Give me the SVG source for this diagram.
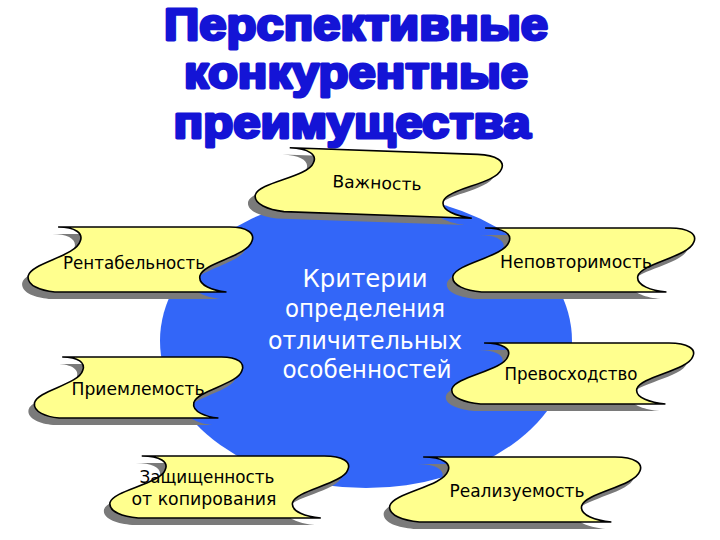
<svg xmlns="http://www.w3.org/2000/svg" xmlns:xlink="http://www.w3.org/1999/xlink" width="720" height="540" viewBox="0 0 720 540">
  <style>
    .title { font-family: "Liberation Sans", Arial, sans-serif; font-weight: bold; font-size: 44px; fill: #1414d6; stroke: #1414d6; stroke-width: 3px; stroke-linejoin: round; text-anchor: middle; }
    .ctext { font-family: "DejaVu Sans", Tahoma, sans-serif; font-size: 24px; fill: #ffffff; text-anchor: middle; }
    .ftext { font-family: "DejaVu Sans", Tahoma, sans-serif; font-size: 17px; fill: #000000; text-anchor: middle; }
    .flagfill { fill: #ffff8e; stroke: #000000; stroke-width: 1.6px; }
    .shadow { fill: #7a7a7a; stroke: none; }
  </style>
  <defs>
    <path id="flag" vector-effect="non-scaling-stroke" d="M0.118,0 L0.895,0 C0.975,0 1.01,0.1 0.995,0.22 C0.975,0.45 0.775,0.55 0.76,0.75 C0.75,0.9 0.82,0.98 0.88,1 L0.103,1 C0.04,0.98 -0.025,0.9 -0.017,0.75 C-0.002,0.55 0.198,0.45 0.218,0.22 C0.233,0.1 0.198,0 0.118,0 Z"/>
  </defs>
  <rect x="0" y="0" width="720" height="540" fill="#ffffff"/>

  <g id="title">
    <text class="title" x="356" y="40" textLength="384" lengthAdjust="spacingAndGlyphs">Перспективные</text>
    <text class="title" x="356" y="88" textLength="344" lengthAdjust="spacingAndGlyphs">конкурентные</text>
    <text class="title" x="352" y="138" textLength="357" lengthAdjust="spacingAndGlyphs">преимущества</text>
  </g>

  <g id="center">
    <ellipse cx="366" cy="341" rx="206" ry="147" fill="#3366f8"/>
    <text class="ctext" x="365" y="287" textLength="125" lengthAdjust="spacingAndGlyphs">Критерии</text>
    <text class="ctext" x="365" y="317" textLength="160" lengthAdjust="spacingAndGlyphs">определения</text>
    <text class="ctext" x="365" y="349" textLength="194" lengthAdjust="spacingAndGlyphs">отличительных</text>
    <text class="ctext" x="367" y="378" textLength="169" lengthAdjust="spacingAndGlyphs">особенностей</text>
  </g>

  <g id="connectors"></g>

  <g id="vazhnost" transform="rotate(2 381 183)">
    <use xlink:href="#flag" class="shadow" transform="translate(253 158) scale(242 64)"/>
    <use xlink:href="#flag" class="flagfill" transform="translate(260 151) scale(242 64)"/>
    <text class="ftext" x="377" y="189" textLength="89" lengthAdjust="spacingAndGlyphs">Важность</text>
  </g>

  <g id="rentabelnost">
    <use xlink:href="#flag" class="shadow" transform="translate(26 234) scale(221 65)"/>
    <use xlink:href="#flag" class="flagfill" transform="translate(32 227) scale(221 65)"/>
    <text class="ftext" x="134" y="269" textLength="142" lengthAdjust="spacingAndGlyphs">Рентабельность</text>
  </g>

  <g id="nepovtorimost">
    <use xlink:href="#flag" class="shadow" transform="translate(451 235) scale(238 64)"/>
    <use xlink:href="#flag" class="flagfill" transform="translate(457 228) scale(238 64)"/>
    <text class="ftext" x="576" y="268" textLength="152" lengthAdjust="spacingAndGlyphs">Неповторимость</text>
  </g>

  <g id="priemlemost">
    <use xlink:href="#flag" class="shadow" transform="translate(32 364) scale(205 61)"/>
    <use xlink:href="#flag" class="flagfill" transform="translate(38 357) scale(205 61)"/>
    <text class="ftext" x="138" y="395" textLength="133" lengthAdjust="spacingAndGlyphs">Приемлемость</text>
  </g>

  <g id="prevoskhodstvo">
    <use xlink:href="#flag" class="shadow" transform="translate(450 350) scale(238 61)"/>
    <use xlink:href="#flag" class="flagfill" transform="translate(456 343) scale(238 61)"/>
    <text class="ftext" x="571" y="380" textLength="133" lengthAdjust="spacingAndGlyphs">Превосходство</text>
  </g>

  <g id="zashchishchennost">
    <use xlink:href="#flag" class="shadow" transform="translate(108 463) scale(235 62)"/>
    <use xlink:href="#flag" class="flagfill" transform="translate(114 456) scale(235 62)"/>
    <text class="ftext" x="207" y="483" textLength="135" lengthAdjust="spacingAndGlyphs">Защищенность</text>
    <text class="ftext" x="204" y="505" textLength="145" lengthAdjust="spacingAndGlyphs">от копирования</text>
  </g>

  <g id="realizuemost">
    <use xlink:href="#flag" class="shadow" transform="translate(388 464) scale(247 65)"/>
    <use xlink:href="#flag" class="flagfill" transform="translate(394 457) scale(247 65)"/>
    <text class="ftext" x="517" y="497" textLength="135" lengthAdjust="spacingAndGlyphs">Реализуемость</text>
  </g>
</svg>
